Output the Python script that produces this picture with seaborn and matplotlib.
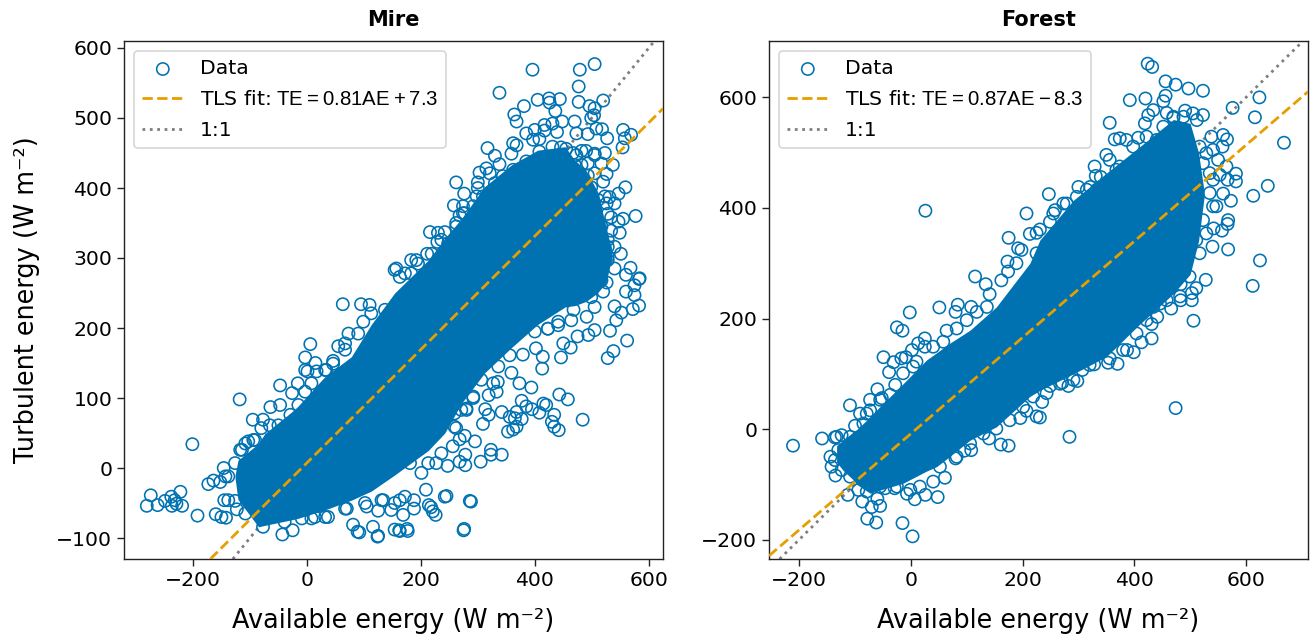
import matplotlib
matplotlib.use("Agg")
import matplotlib.pyplot as plt
import seaborn as sns

BLUE = "#0072B2"
ORANGE = "#E69F00"
GREY = "#7f7f7f"

# Individually readable points (W m-2)
mire_ae = [484,443,458,442,430,434,434,408,420,415,394,373,377,385,395,368,342,353,362,368,365,377,356,313,319,309,
    342,323,323,305,295,278,278,268,247,227,277,268,259,280,259,209,245,288,276,214,221,188,188,169,172,176,162,
    528,538,562,532,543,572,583,552,540,505,494,475,463,446,413,414,402,450,423,441,468,491,359,333,319,335,292,271,
    505,479,396,477,338,477,520,444,425,405,426,436,381,364,368,496,505,504,499,470,448,431,417,400,385,417,439,493,473,
    508,518,527,555,558,569,554,397,408,317,330,362,368,359,338,315,303,321,262,276,300,330,298,300,258,274,277,262,268,
    216,230,242,229,248,192,183,211,157,163,183,559,547,531,540,526,577,555,547,534,549,528,523,528,551,540,568,560,583,575,584,
    526,560,575,520,490,505,523,537,520,526,493,446,467,470,
    -201,-118,-281,-274,-262,-249,-238,-222,-232,-237,-229,-219,-192,-160,-150,-142,-173,-164,-152,-145,-138,-126,-123,-146,
    -95,-77,-64,-47,-47,-16,-26,6,-3,55,15,-3,1,17,46,34,73,63,95,110,67,-108,-117,-94,-143,-77,-43,-25,
    81,92,116,124,37,14,67,105,125,134,154,89,125,163,177,218,226,242,275,286,
    # fringe of the dense cloud
    -138,-126,-114,-103,-91,-80,-65,-50,-29,-15,-3,8,32,46,67,90,99,113,137,
    -108,-39,-9,8,32,70,102,131,148,163,154,181,201,213,236,256,262,280,292,306,327,336,356,379,400,423,441,464,505,
    505,517,528,511,517,499,499,505,517,493,499,523,511,528,534,528,540,505,482,
    154,172,195,219,236,262,274,292,309,327,344,362,385,408,431,455,473,482]
mire_te = [69,105,98,54,66,59,76,79,90,92,115,121,96,88,84,80,80,52,55,59,71,70,73,84,76,63,
    19,26,19,9,38,4,19,9,3,7,46,41,78,83,59,-31,-40,-48,-87,-53,-62,-46,-58,-67,-41,-87,-89,
    157,167,182,196,211,227,232,222,231,197,190,188,172,158,142,159,171,178,199,209,226,216,136,109,104,123,100,83,
    577,569,569,545,536,523,525,527,528,526,522,510,517,505,495,517,514,504,500,495,495,492,490,483,478,482,480,477,478,
    485,484,471,483,471,476,458,469,470,457,446,464,461,449,434,428,422,421,408,392,408,407,388,400,375,374,364,350,361,
    337,336,337,323,321,297,297,306,285,273,278,401,392,387,378,378,360,356,352,358,336,326,314,302,306,285,286,276,270,261,271,
    265,252,247,252,453,447,450,433,409,420,418,458,450,433,
    34,98,-54,-39,-53,-47,-41,-34,-46,-54,-51,-54,-68,-66,-70,-71,-23,-18,-20,-46,-46,-47,-59,0,
    69,69,87,90,118,121,107,177,158,174,150,140,138,138,153,140,192,234,234,233,178,35,26,40,-12,-84,-95,-89,
    -81,-92,-84,-98,-70,-70,-58,-55,-61,-46,-88,-91,-97,-90,-90,-56,-67,-41,-89,-47,
    -12,7,26,38,40,57,61,61,76,90,109,121,140,149,169,192,209,221,226,
    -65,-77,-72,-72,-70,-58,-50,-46,-60,-46,-50,7,-7,7,21,31,57,85,102,126,121,145,161,162,195,199,204,211,230,
    364,345,316,297,268,263,244,421,435,435,401,388,383,363,339,297,316,449,453,
    283,278,292,306,326,345,364,374,388,397,417,426,438,452,459,456,447,433]

# Outline of the solid dense cloud (W m-2)
mire_band_ae = [-126,-121,-85,-74,-27,-16,31,78,113,154,213,242,271,312,359,405,453,470,490,510,525,535]
mire_band_lo = [-15,-45,-84,-82,-74,-72,-60,-46,-33,-10,25,50,92,136,172,205,230,232,238,250,265,300]
mire_band_hi = [-10,11,35,49,80,88,130,159,205,250,297,328,356,402,433,454,459,440,425,395,345,310]

forest_ae = [26,207,175,213,225,198,192,225,173,115,134,174,189,162,141,
    -211,-159,-144,-142,-135,-136,-109,-100,-91,-79,-60,-73,-52,-49,-39,-31,-17,-9,-25,-15,-2,51,84,64,25,13,2,108,80,
    -113,-87,-70,-55,-60,-78,-62,-15,3,-46,-29,-7,7,26,48,61,80,108,96,140,161,175,196,225,207,
    424,432,456,474,497,523,392,420,452,456,576,624,616,668,639,613,625,612,568,540,528,511,483,503,482,247,356,329,340,331,
    300,321,279,258,249,434,425,419,374,365,386,407,350,356,374,491,505,523,458,470,538,559,566,558,541,550,565,582,582,567,553,
    541,573,559,568,567,557,542,547,
    474,284,506,431,466,441,431,413,399,387,370,353,328,307,298,282,271,249,235,231,483,503,446,
    # fringe of the dense cloud
    -133,-124,-109,-130,-136,-124,-109,-94,-79,-55,-25,-1,16,40,52,82,106,130,153,177,201,219,
    -85,-73,-55,-37,-28,-14,4,10,25,40,58,82,100,118,136,
    231,255,273,291,297,315,333,356,368,386,398,422,440,452,470,488,512,517,529,523,535,535,541,523,529,511,517,499,
    291,320,356,380,404,422,434,458,243,267]
forest_te = [395,390,346,353,355,324,327,318,303,276,262,285,300,269,244,
    -30,-17,-50,-68,-84,-15,43,6,28,28,72,53,56,130,103,121,128,130,184,178,211,220,225,178,164,155,143,221,212,
    -119,-131,-141,-139,-126,-162,-169,-170,-194,-107,-107,-117,-127,-119,-123,-88,-53,-38,-39,-17,-28,-30,20,23,33,
    661,655,629,623,616,612,595,598,593,603,581,600,564,518,440,422,305,259,325,330,270,255,262,246,240,425,554,475,456,458,
    438,438,408,396,375,577,568,553,526,524,523,527,496,487,475,576,571,568,572,563,529,532,524,511,505,487,475,462,448,451,460,
    451,413,426,378,371,359,363,403,
    38,-14,196,164,218,203,190,157,139,143,118,120,117,107,87,78,84,78,49,21,233,233,227,
    -14,-11,-14,-38,-56,-74,-86,-110,-113,-104,-104,-110,-104,-95,-68,-50,-26,-8,1,16,40,59,
    10,34,53,62,80,101,113,122,149,149,158,182,197,212,221,
    361,390,408,384,420,433,433,445,469,463,511,529,523,547,565,565,559,511,499,481,463,427,403,378,354,342,318,276,
    89,116,128,143,173,197,221,233,65,82]

forest_band_ae = [-133,-121,-103,-97,-73,-61,-14,28,46,69,106,153,213,231,291,350,410,470,500,515,525]
forest_band_lo = [-60,-75,-92,-100,-116,-112,-98,-76,-68,-50,-20,4,59,70,100,131,190,245,280,340,420]
forest_band_hi = [-30,-20,-5,-1,22,35,82,125,138,155,179,221,300,342,414,463,511,560,553,500,430]

panels = ["Mire", "Forest"]
slopes = [0.81, 0.87]
intercepts = [7.3, -8.3]
fit_labels = [r"TLS fit:$\;\mathrm{TE = 0.81 AE + 7.3}$", r"TLS fit:$\;\mathrm{TE = 0.87 AE - 8.3}$"]
xlims = [(-321, 625), (-254, 711)]
ylims = [(-130, 610), (-235, 702)]
xticks = [[-200, 0, 200, 400, 600], [-200, 0, 200, 400, 600]]
yticks = [[-100, 0, 100, 200, 300, 400, 500, 600], [-200, 0, 200, 400, 600]]

sns.set_theme(style="ticks", rc={"mathtext.fontset": "custom", "mathtext.rm": "Liberation Sans",
                                 "text.color": "black", "axes.labelcolor": "black",
                                 "axes.titlecolor": "black"})
fig = plt.figure(figsize=(13.14, 6.41), dpi=100)
axes = [fig.add_axes([124/1314, 1-559/641, 539/1314, 518/641]),
        fig.add_axes([769/1314, 1-559/641, 539/1314, 518/641])]

series = [(mire_ae, mire_te, mire_band_ae, mire_band_lo, mire_band_hi),
          (forest_ae, forest_te, forest_band_ae, forest_band_lo, forest_band_hi)]

for i, ax in enumerate(axes):
    ae, te, bx, lo, hi = series[i]
    ax.fill_between(bx, lo, hi, color=BLUE, linewidth=0, zorder=1)
    sns.scatterplot(x=ae, y=te, ax=ax, s=78, facecolor="none", edgecolor=BLUE,
                    linewidth=1.15, label="Data", zorder=2, legend=False)
    ax.axline((0, intercepts[i]), slope=slopes[i], color=ORANGE, ls="--", lw=2,
              label=fit_labels[i], zorder=3)
    ax.axline((0, 0), slope=1, color=GREY, ls=":", lw=2, label="1:1", zorder=0.5)
    ax.set_xlim(*xlims[i])
    ax.set_ylim(*ylims[i])
    ax.set_xticks(xticks[i])
    ax.set_yticks(yticks[i])
    ax.tick_params(labelsize=14.7, length=5, width=1, color="#222222", labelcolor="black")
    for sp in ax.spines.values():
        sp.set_visible(True)
        sp.set_linewidth(1)
        sp.set_color("#222222")
    ax.set_title(panels[i], fontsize=15, fontweight="bold", pad=11, color="black")
    ax.set_xlabel("Available energy (W m⁻²)", fontsize=18.4, labelpad=13)
    if i == 0:
        ax.set_ylabel("Turbulent energy (W m⁻²)", fontsize=18.4, labelpad=12)
    leg = ax.legend(loc="upper left", fontsize=14.7, frameon=True, framealpha=0.8,
                    edgecolor="#cccccc", fancybox=True, labelspacing=0.58,
                    handletextpad=0.8, borderaxespad=0.5)
    leg.get_frame().set_linewidth(1.2)

fig.savefig("out.png", dpi=100)
